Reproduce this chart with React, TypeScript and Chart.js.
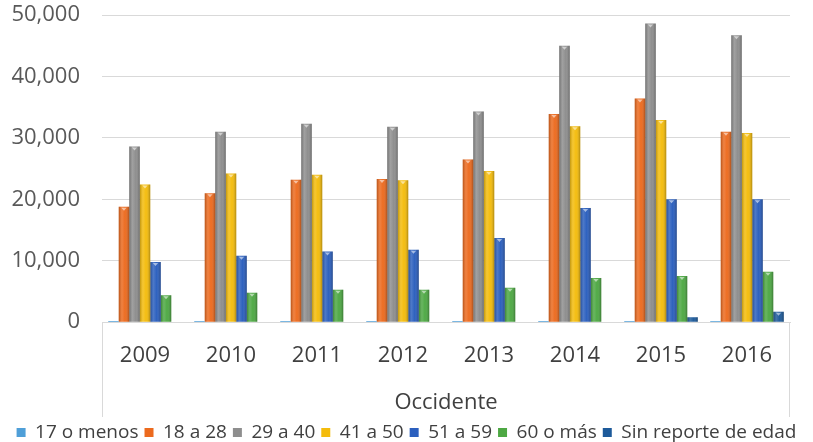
import React, { useEffect, useRef } from "react";
import { Chart, registerables } from "chart.js";

Chart.register(...registerables);

const categories = ["2009", "2010", "2011", "2012", "2013", "2014", "2015", "2016"];
const seriesNames = ["17 o menos", "18 a 28", "29 a 40", "41 a 50", "51 a 59", "60 o más", "Sin reporte de edad"];
const menos17 = [200, 200, 200, 200, 200, 200, 200, 200];
const de18a28 = [18800, 21000, 23200, 23300, 26500, 33900, 36400, 31000];
const de29a40 = [28600, 31000, 32300, 31800, 34300, 45000, 48600, 46700];
const de41a50 = [22400, 24200, 24000, 23100, 24600, 31900, 32900, 30800];
const de51a59 = [9800, 10800, 11500, 11800, 13700, 18600, 20000, 20000];
const mas60 = [4400, 4800, 5300, 5300, 5600, 7200, 7500, 8200];
const sinReporte = [0, 0, 0, 0, 0, 0, 800, 1700];
const seriesValues = [menos17, de18a28, de29a40, de41a50, de51a59, mas60, sinReporte];
const seriesColors = ["#4F9FD8", "#EC6A1E", "#8E8E8E", "#F4BC0C", "#2B5FBE", "#4DA843", "#1D5A9A"];
const yTicks = [0, 10000, 20000, 30000, 40000, 50000];
const axisTitle = "Occidente";

const bevelPlugin = {
  id: "bevel",
  afterDatasetsDraw(chart: any) {
    const ctx = chart.ctx;
    chart.data.datasets.forEach((_: any, i: number) => {
      const meta = chart.getDatasetMeta(i);
      if (meta.hidden) return;
      meta.data.forEach((bar: any) => {
        const { x, y, base, width } = bar.getProps(["x", "y", "base", "width"], true);
        const l = x - width / 2;
        const h = base - y;
        if (h < 1) return;
        ctx.save();
        const g = ctx.createLinearGradient(l, 0, l + width, 0);
        g.addColorStop(0, "rgba(0,0,0,0.22)");
        g.addColorStop(0.3, "rgba(255,255,255,0.16)");
        g.addColorStop(0.6, "rgba(255,255,255,0.02)");
        g.addColorStop(1, "rgba(0,0,0,0.28)");
        ctx.fillStyle = g;
        ctx.fillRect(l, y, width, h);
        if (h > 6) {
          ctx.beginPath();
          ctx.moveTo(l + width * 0.25, y + 1);
          ctx.lineTo(l + width * 0.75, y + 1);
          ctx.lineTo(x, y + 4);
          ctx.closePath();
          ctx.fillStyle = "rgba(255,255,255,0.55)";
          ctx.fill();
        }
        ctx.restore();
      });
    });
  },
};

const boxPlugin = {
  id: "catBox",
  afterDraw(chart: any) {
    const { ctx, chartArea, scales } = chart;
    const bottom = scales.x.bottom;
    ctx.save();
    ctx.strokeStyle = "#d9d9d9";
    ctx.lineWidth = 1;
    ctx.beginPath();
    ctx.moveTo(Math.round(chartArea.left) + 0.5, chartArea.bottom);
    ctx.lineTo(Math.round(chartArea.left) + 0.5, bottom);
    ctx.moveTo(Math.round(chartArea.right) - 0.5, chartArea.bottom);
    ctx.lineTo(Math.round(chartArea.right) - 0.5, bottom);
    ctx.stroke();
    ctx.restore();
  },
};

export default function App() {
  const ref = useRef<HTMLCanvasElement | null>(null);

  useEffect(() => {
    if (!ref.current) return;
    const chart = new Chart(ref.current, {
      type: "bar",
      data: {
        labels: categories,
        datasets: seriesNames.map((name, i) => ({
          label: name,
          data: seriesValues[i],
          backgroundColor: seriesColors[i],
          borderWidth: 0,
          categoryPercentage: 0.855,
          barPercentage: 1.0,
        })),
      },
      options: {
        animation: false,
        responsive: false,
        maintainAspectRatio: false,
        layout: { padding: { top: 15, left: 0, right: 0, bottom: -10 } },
        plugins: {
          tooltip: { enabled: false },
          legend: {
            position: "bottom",
            labels: {
              boxWidth: 9,
              boxHeight: 9,
              padding: 6,
              color: "#404040",
              font: { family: "Open Sans", size: 19 },
            },
          },
        },
        scales: {
          x: {
            grid: { display: false },
            border: { display: true, color: "#d9d9d9" },
            afterFit: (axis: any) => {
              axis.paddingLeft = 0;
              axis.paddingRight = 23;
            },
            ticks: {
              color: "#404040",
              font: { family: "Open Sans", size: 22 },
              padding: 12,
            },
            title: {
              display: true,
              text: axisTitle,
              color: "#404040",
              font: { family: "Open Sans", size: 22 },
              padding: { top: 9, bottom: 1 },
            },
          },
          y: {
            min: 0,
            max: 50000,
            afterBuildTicks: (axis: any) => {
              axis.ticks = yTicks.map((v) => ({ value: v }));
            },
            afterFit: (axis: any) => {
              axis.paddingTop = 0;
              axis.paddingBottom = 0;
              axis.width = 102;
            },
            grid: { color: "#d9d9d9", drawTicks: false },
            border: { display: false },
            ticks: {
              color: "#595959",
              font: { family: "Open Sans", size: 22 },
              padding: 22,
              callback: (v: any) => Number(v).toLocaleString("en-US"),
            },
          },
        },
      },
      plugins: [bevelPlugin, boxPlugin],
    });
    return () => chart.destroy();
  }, []);

  return (
    <div style={{ position: "fixed", left: 0, top: 0, width: 813, height: 442, background: "#fff" }}>
      <canvas ref={ref} width={813} height={442} style={{ display: "block" }} />
    </div>
  );
}
